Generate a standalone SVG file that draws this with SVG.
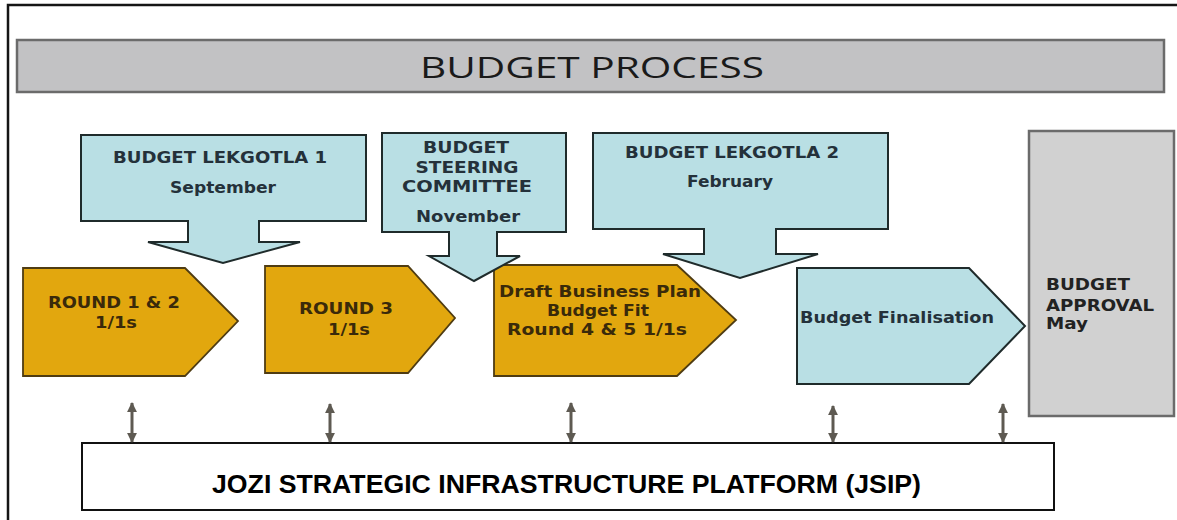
<svg xmlns="http://www.w3.org/2000/svg" width="1177" height="520" viewBox="0 0 1177 520">
<defs>
<style>
.frame{fill:none;stroke:#151515;stroke-width:2.5}
.title{fill:#c2c2c4;stroke:#6b6b6b;stroke-width:2.5}
.blue{fill:#b9dfe4;stroke:#1f2b2b;stroke-width:2}
.gold{fill:#e2a70e;stroke:#4f3c12;stroke-width:1.8}
.gray{fill:#d1d1d1;stroke:#6b6b6b;stroke-width:2.5}
.jsip{fill:#ffffff;stroke:#111111;stroke-width:2}
.t-title{font-family:"Open Sans","DejaVu Sans",sans-serif;font-size:30px;fill:#1a1a1a}
.b{font-family:"DejaVu Sans","Verdana",sans-serif;font-weight:bold;font-size:16px}
.sm{font-size:15px}
.c-blue{fill:#24313a}
.c-gold{fill:#3a2a0a}
.c-gray{fill:#222222}
.t-jsip{font-family:"Liberation Sans",Arial,sans-serif;font-weight:bold;font-size:25px;fill:#000000}
.conn{stroke:#5e5a52;stroke-width:3;fill:none;marker-start:url(#ah);marker-end:url(#ah)}
</style>
<marker id="ah" viewBox="0 0 10 10" refX="9" refY="5" markerWidth="3.3" markerHeight="3.3" orient="auto-start-reverse" markerUnits="strokeWidth">
<path d="M0,0 L10,5 L0,10 Z" fill="#5e5a52"/>
</marker>
</defs>
<rect width="1177" height="520" fill="#ffffff"/>
<path class="frame" d="M8,520 V5 H1177"/>

<g id="title">
<rect class="title" x="17" y="40" width="1147" height="52"/>
<text class="t-title" x="420" y="78" textLength="344" lengthAdjust="spacingAndGlyphs">BUDGET PROCESS</text>
</g>

<g id="round12">
<path class="gold" d="M23,268 H185 L238,321 L185,376 H23 Z"/>
<text class="b c-gold" x="114" y="308" text-anchor="middle" textLength="132" lengthAdjust="spacingAndGlyphs">ROUND 1 &amp; 2</text>
<text class="b c-gold" x="116" y="328" text-anchor="middle" textLength="42" lengthAdjust="spacingAndGlyphs">1/1s</text>
</g>

<g id="round3">
<path class="gold" d="M265,266 H408 L455,318 L408,373 H265 Z"/>
<text class="b c-gold" x="346" y="314" text-anchor="middle" textLength="94" lengthAdjust="spacingAndGlyphs">ROUND 3</text>
<text class="b c-gold" x="349" y="335" text-anchor="middle" textLength="42" lengthAdjust="spacingAndGlyphs">1/1s</text>
</g>

<g id="draft">
<path class="gold" d="M494,265 H677 L736,320 L677,376 H494 Z"/>
<text class="b c-gold" x="499" y="297" textLength="202" lengthAdjust="spacingAndGlyphs">Draft Business Plan</text>
<text class="b c-gold" x="547" y="316" textLength="102" lengthAdjust="spacingAndGlyphs">Budget Fit</text>
<text class="b c-gold" x="507" y="335" textLength="180" lengthAdjust="spacingAndGlyphs">Round 4 &amp; 5 1/1s</text>
</g>

<g id="finalisation">
<path class="blue" d="M797,268 H969 L1025,326 L969,384 H797 Z"/>
<text class="b c-blue" x="800" y="323" textLength="194" lengthAdjust="spacingAndGlyphs">Budget Finalisation</text>
</g>

<g id="approval">
<rect class="gray" x="1029" y="131" width="145" height="285"/>
<text class="b c-gray" x="1046" y="290" textLength="84" lengthAdjust="spacingAndGlyphs">BUDGET</text>
<text class="b c-gray" x="1046" y="311" textLength="108" lengthAdjust="spacingAndGlyphs">APPROVAL</text>
<text class="b c-gray" x="1046" y="329" textLength="42" lengthAdjust="spacingAndGlyphs">May</text>
</g>

<g id="lekgotla1">
<path class="blue" d="M81,135 H366 V221 H259 V242 H300 L223,263 L148,242 H188 V221 H81 Z"/>
<text class="b c-blue" x="220" y="163" text-anchor="middle" textLength="214" lengthAdjust="spacingAndGlyphs">BUDGET LEKGOTLA 1</text>
<text class="b c-blue" x="223" y="193" text-anchor="middle" textLength="106" lengthAdjust="spacingAndGlyphs">September</text>
</g>

<g id="steering">
<path class="blue" d="M382,133 H566 V232 H497 V256 H520 L474,281 L429,256 H449 V232 H382 Z"/>
<text class="b sm c-blue" x="466" y="153" text-anchor="middle" textLength="86" lengthAdjust="spacingAndGlyphs">BUDGET</text>
<text class="b sm c-blue" x="467" y="173" text-anchor="middle" textLength="103" lengthAdjust="spacingAndGlyphs">STEERING</text>
<text class="b sm c-blue" x="467" y="192" text-anchor="middle" textLength="130" lengthAdjust="spacingAndGlyphs">COMMITTEE</text>
<text class="b c-blue" x="468" y="222" text-anchor="middle" textLength="104" lengthAdjust="spacingAndGlyphs">November</text>
</g>

<g id="lekgotla2">
<path class="blue" d="M593,133 H888 V229 H776 V254 H818 L740,278 L663,254 H704 V229 H593 Z"/>
<text class="b c-blue" x="732" y="158" text-anchor="middle" textLength="214" lengthAdjust="spacingAndGlyphs">BUDGET LEKGOTLA 2</text>
<text class="b c-blue" x="730" y="187" text-anchor="middle" textLength="86" lengthAdjust="spacingAndGlyphs">February</text>
</g>

<g id="jsip">
<rect class="jsip" x="82" y="443" width="972" height="67"/>
<text class="t-jsip" x="212" y="493" textLength="709" lengthAdjust="spacingAndGlyphs">JOZI STRATEGIC INFRASTRUCTURE PLATFORM (JSIP)</text>
</g>

<g id="connectors">
<line class="conn" x1="132" y1="403" x2="132" y2="442"/>
<line class="conn" x1="330" y1="404" x2="330" y2="442"/>
<line class="conn" x1="571" y1="403" x2="571" y2="442"/>
<line class="conn" x1="833" y1="406" x2="833" y2="442"/>
<line class="conn" x1="1003" y1="404" x2="1003" y2="442"/>
</g>
</svg>
